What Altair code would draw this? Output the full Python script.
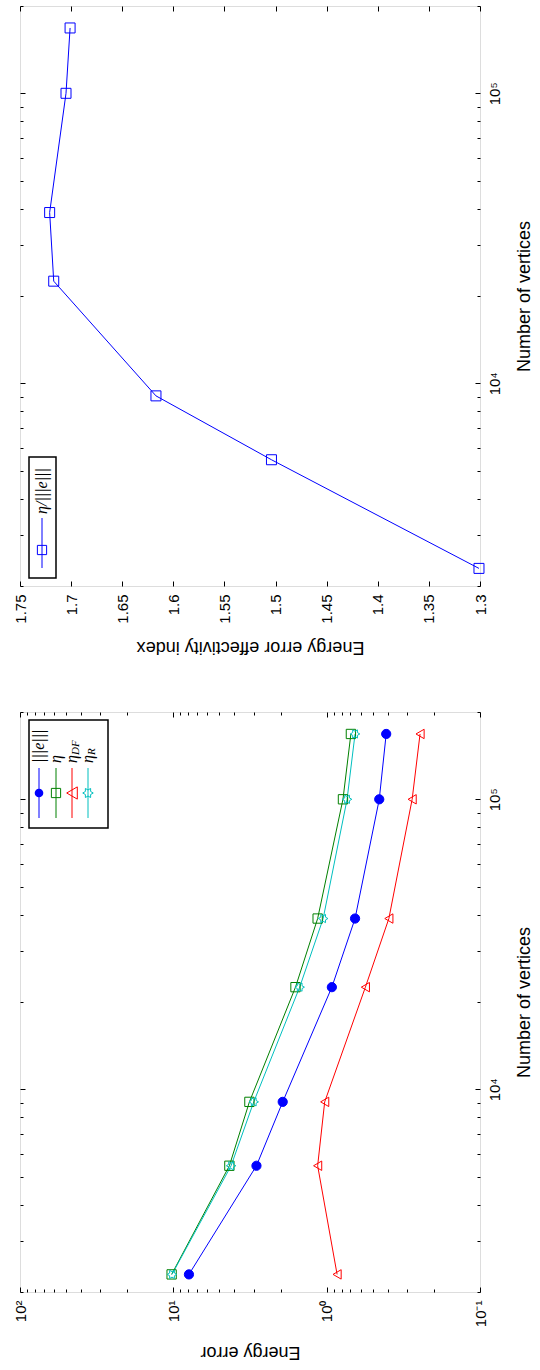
import math
import altair as alt
import pandas as pd

# ---------------- data ----------------
vertices = [2300, 5450, 9050, 22500, 38800, 100000, 168000]
err_e = [7.91, 2.87, 1.935, 0.925, 0.653, 0.454, 0.409]
eta = [10.26, 4.31, 3.19, 1.597, 1.145, 0.783, 0.695]
eta_df = [0.855, 1.145, 1.03, 0.559, 0.393, 0.277, 0.246]
eta_r = [10.2, 4.20, 2.99, 1.50, 1.054, 0.736, 0.653]
effectivity = [1.301, 1.504, 1.617, 1.717, 1.721, 1.705, 1.701]

series_names = ["e", "eta", "eta_DF", "eta_R"]
series_values = [err_e, eta, eta_df, eta_r]

err_major = [0.1, 1, 10, 100]
err_minor = [0.2, 0.3, 0.4, 0.5, 0.6, 0.7, 0.8, 0.9,
             2, 3, 4, 5, 6, 7, 8, 9,
             20, 30, 40, 50, 60, 70, 80, 90]
vert_major = [10000, 100000]
vert_minor = [2000, 3000, 4000, 5000, 6000, 7000, 8000, 9000,
              20000, 30000, 40000, 50000, 60000, 70000, 80000, 90000, 200000]
eff_major = [1.3, 1.35, 1.4, 1.45, 1.5, 1.55, 1.6, 1.65, 1.7, 1.75]

df_err = pd.DataFrame(
    [{"series": s, "vertices": v, "value": val, "k": i}
     for s, vals in zip(series_names, series_values)
     for i, (v, val) in enumerate(zip(vertices, vals))]
)
df_eff = pd.DataFrame({"vertices": vertices, "value": effectivity})

# ---------------- styles ----------------
W, H = 460, 580
FONT = "Liberation Sans"
LFS = 15
TFS = 18
colors = ["#0000FF", "#008000", "#FF0000", "#00BFBF"]
fills = ["#0000FF", "transparent", "transparent", "transparent"]

pts = []
for k in range(12):
    ang = math.radians(k * 30)
    r = 1 if k % 2 == 0 else 0.577
    pts.append((r * math.cos(ang), r * math.sin(ang)))
hexagram = "M" + "L".join(f"{x:.3f},{y:.3f}" for x, y in pts) + "Z"
shapes = ["circle", "square", "triangle-left", hexagram]

pow_expr = ("datum.value == 100 ? '10²' : datum.value == 10 ? '10¹' : "
            "datum.value == 1 ? '10⁰' : datum.value == 0.1 ? '10⁻¹' : "
            "datum.value == 10000 ? '10⁴' : datum.value == 100000 ? '10⁵' : ''")


def tick_axis(orient, values, size):
    if not values:
        return None
    return alt.Axis(orient=orient, values=values, labels=False, domain=False, grid=False,
                    tickSize=size, offset=-size, tickColor="black", tickWidth=1, title=None)


def x_label_axis(values, expr, title, tpad):
    return alt.Axis(orient="bottom", values=values, labelExpr=expr, domain=False, grid=False,
                    tickSize=5, offset=-5, tickColor="black", tickWidth=1,
                    labelAngle=270, labelAlign="right", labelBaseline="middle",
                    labelPadding=8, labelFontSize=LFS, labelFont=FONT, labelColor="black",
                    labelOverlap=False, labelFlush=False,
                    title=title, titleAngle=180, titleBaseline="bottom", titlePadding=tpad,
                    titleFontSize=TFS, titleFont=FONT, titleFontWeight="normal", titleColor="black")


def y_label_axis():
    return alt.Axis(orient="right", values=vert_major, labelExpr=pow_expr, domain=False, grid=False,
                    tickSize=5, offset=-5, tickColor="black", tickWidth=1,
                    labelAngle=270, labelAlign="center", labelBaseline="top",
                    labelPadding=7, labelFontSize=LFS, labelFont=FONT, labelColor="black",
                    labelOverlap=False, labelFlush=False,
                    title="Number of vertices", titleAngle=270, titleBaseline="top", titlePadding=13,
                    titleFontSize=TFS, titleFont=FONT, titleFontWeight="normal", titleColor="black")


def panel(df, sx, sy, x_label_ax, x_major, x_minor, main_layers, legend_layers):
    y_axes = [y_label_axis(), tick_axis("right", vert_minor, 3),
              tick_axis("left", vert_major, 5), tick_axis("left", vert_minor, 3)]
    x_axes = [x_label_ax, tick_axis("bottom", x_minor, 3),
              tick_axis("top", x_major, 5), tick_axis("top", x_minor, 3)]
    charts = []
    for i in range(4):
        if i < len(main_layers):
            base = main_layers[i]
        else:
            base = alt.Chart(df).mark_point(opacity=0)
        charts.append(base.encode(
            x=alt.X("value:Q", scale=sx, axis=x_axes[i]),
            y=alt.Y("vertices:Q", scale=sy, axis=y_axes[i]),
        ))
    return alt.layer(*charts, *legend_layers).resolve_axis(x="independent", y="independent").properties(
        width=W, height=H)


one = alt.Data(values=[{"a": 1}])


def box(x1, x2, y1, y2):
    return alt.Chart(one).mark_rect(fill="white", stroke="black", strokeWidth=1.5).encode(
        x=alt.value(x1), x2=alt.value(x2), y=alt.value(y1), y2=alt.value(y2))


def vline(x, y1, y2, color):
    return alt.Chart(one).mark_rule(color=color, strokeWidth=1).encode(
        x=alt.value(x), y=alt.value(y1), y2=alt.value(y2))


def sym(x, y, shape, color, filled, size):
    return alt.Chart(one).mark_point(shape=shape, filled=filled, color=color, size=size,
                                     strokeWidth=1, opacity=1).encode(
        x=alt.value(x), y=alt.value(y))


def label(x, y, text, size=16):
    return alt.Chart(one).mark_text(text=text, angle=270, align="left", baseline="middle",
                                    font="Liberation Serif", fontStyle="italic", fontSize=size,
                                    color="black").encode(x=alt.value(x), y=alt.value(y))


# ---------------- top panel (effectivity) ----------------
sx_eff = alt.Scale(type="linear", domain=[1.3, 1.75], reverse=True, nice=False, zero=False)
sy_v = alt.Scale(type="log", domain=[2000, 200000], nice=False)

eff_line = alt.Chart(df_eff).mark_line(color="#0000FF", strokeWidth=1).encode(order="vertices:Q")
eff_pts = alt.Chart(df_eff).mark_point(shape="square", color="#0000FF", filled=False,
                                       size=100, strokeWidth=1, opacity=1)

top_legend = [
    box(9, 36, 451, 572),
    vline(22, 512, 562, "#0000FF"),
    sym(22, 544, "square", "#0000FF", False, 85),
    label(22, 508, "η/|||e|||"),
]

top = panel(df_eff, sx_eff, sy_v,
            x_label_axis(eff_major, "'' + datum.value", "Energy error effectivity index", 14),
            eff_major, [], [eff_line, eff_pts], top_legend)

# ---------------- bottom panel (energy error) ----------------
sx_err = alt.Scale(type="log", domain=[0.1, 100], reverse=True, nice=False)
cscale = alt.Scale(domain=series_names, range=colors)

err_line = alt.Chart(df_err).mark_line(strokeWidth=1).encode(
    color=alt.Color("series:N", scale=cscale, legend=None), order="k:Q")
err_pts = alt.Chart(df_err).mark_point(strokeWidth=1, opacity=1, filled=False).encode(
    stroke=alt.Stroke("series:N", scale=cscale, legend=None),
    fill=alt.Fill("series:N", scale=alt.Scale(domain=series_names, range=fills), legend=None),
    shape=alt.Shape("series:N", scale=alt.Scale(domain=series_names, range=shapes), legend=None),
    size=alt.Size("series:N", scale=alt.Scale(domain=series_names, range=[85, 90, 160, 120]),
                  legend=None),
)

lx = [19, 36, 52, 68]
bottom_legend = [box(9, 88, 8, 116)]
for i in range(4):
    bottom_legend.append(vline(lx[i], 56, 106, colors[i]))
bottom_legend += [
    sym(lx[0], 81, "circle", colors[0], True, 75),
    sym(lx[1], 81, "square", colors[1], False, 85),
    sym(lx[2], 81, "triangle-left", colors[2], False, 150),
    sym(lx[3], 81, hexagram, colors[3], False, 110),
    label(lx[0], 51, "|||e|||"),
    label(lx[1], 51, "η"),
    label(lx[2], 51, "η"),
    label(lx[2] + 4, 43, "DF", 11),
    label(lx[3], 51, "η"),
    label(lx[3] + 4, 43, "R", 11),
]

bottom = panel(df_err, sx_err, sy_v,
               x_label_axis(err_major, pow_expr, "Energy error", 16),
               err_major, err_minor, [err_line, err_pts], bottom_legend)

chart = alt.vconcat(top, bottom, spacing=126, bounds="flush").properties(
    padding={"left": 12, "top": 5, "right": 0, "bottom": 0}
).configure_view(stroke="black", strokeWidth=1.5).configure(font=FONT)

chart.save("out.html", embed_options={"renderer": "svg", "actions": False})
